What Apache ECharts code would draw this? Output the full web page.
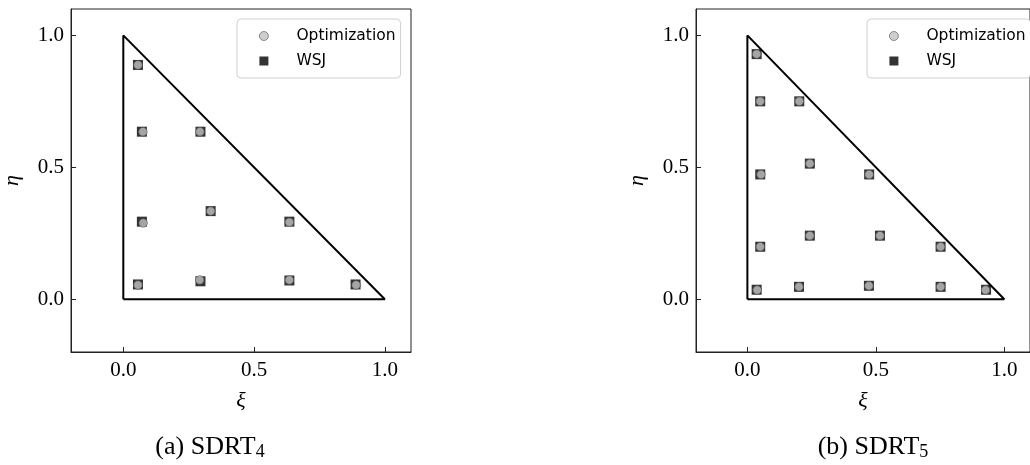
<!DOCTYPE html>
<html>
<head>
<meta charset="utf-8">
<style>
  html, body { margin: 0; padding: 0; background: #fff; }
  #chart { width: 1030px; height: 465px; }
</style>
<script src="https://cdn.jsdelivr.net/npm/echarts@6/dist/echarts.min.js"></script>
</head>
<body>
<div id="chart"></div>
<script>
// Quadrature points on the reference triangle (xi, eta)
const sdrt4Optimization = [
  [0.056, 0.888], [0.075, 0.635], [0.293, 0.635], [0.076, 0.289], [0.334, 0.334],
  [0.635, 0.292], [0.056, 0.054], [0.292, 0.073], [0.635, 0.073], [0.890, 0.054]
];
const sdrt4WSJ = [
  [0.056, 0.888], [0.071, 0.635], [0.295, 0.635], [0.071, 0.294], [0.334, 0.334],
  [0.635, 0.294], [0.056, 0.056], [0.295, 0.068], [0.635, 0.071], [0.888, 0.056]
];
const sdrt5Optimization = [
  [0.036, 0.929], [0.050, 0.750], [0.202, 0.750], [0.243, 0.514], [0.053, 0.473],
  [0.474, 0.473], [0.243, 0.241], [0.516, 0.241], [0.050, 0.199], [0.752, 0.199],
  [0.038, 0.035], [0.201, 0.047], [0.473, 0.051], [0.752, 0.047], [0.927, 0.035]
];
const sdrt5WSJ = [
  [0.036, 0.929], [0.050, 0.750], [0.202, 0.750], [0.243, 0.514], [0.050, 0.473],
  [0.474, 0.473], [0.243, 0.241], [0.516, 0.241], [0.050, 0.199], [0.752, 0.199],
  [0.036, 0.036], [0.201, 0.047], [0.473, 0.051], [0.752, 0.047], [0.929, 0.036]
];
const triangle = [[0, 0], [1, 0], [0, 1], [0, 0]];
const tickValues = [0, 0.5, 1.0];
const axisRange = [-0.2, 1.1];
const captions = ['(a) SDRT{sub|4}', '(b) SDRT{sub|5}'];

const serif = '"Liberation Serif", serif';
const sans = '"DejaVu Sans", sans-serif';

function xAxisFor(idx) {
  return {
    type: 'value', gridIndex: idx, min: axisRange[0], max: axisRange[1],
    name: 'ξ', nameLocation: 'middle', nameGap: 38,
    nameTextStyle: { fontFamily: serif, fontSize: 22, fontStyle: 'italic', color: '#000' },
    axisLine: { show: true, onZero: false, lineStyle: { color: '#222', width: 1 } },
    axisTick: { show: true, inside: true, length: 5, customValues: tickValues, lineStyle: { color: '#222' } },
    axisLabel: { customValues: tickValues, formatter: v => v.toFixed(1), margin: 8,
      fontFamily: serif, fontSize: 21, color: '#000' },
    splitLine: { show: false }
  };
}
function yAxisFor(idx) {
  return {
    type: 'value', gridIndex: idx, min: axisRange[0], max: axisRange[1],
    name: 'η', nameLocation: 'middle', nameGap: 48, nameRotate: 90,
    nameTextStyle: { fontFamily: serif, fontSize: 22, fontStyle: 'italic', color: '#000' },
    axisLine: { show: true, onZero: false, lineStyle: { color: '#222', width: 1 } },
    axisTick: { show: true, inside: true, length: 5, customValues: tickValues, lineStyle: { color: '#222' } },
    axisLabel: { customValues: tickValues, formatter: v => v.toFixed(1), margin: 7,
      fontFamily: serif, fontSize: 21, color: '#000' },
    splitLine: { show: false }
  };
}

const circleStyle = { color: '#c2c2c2', borderColor: '#555', borderWidth: 0.8 };

function seriesFor(idx, opt, wsj) {
  return [
    { type: 'line', xAxisIndex: idx, yAxisIndex: idx, data: triangle, symbol: 'none',
      silent: true, lineStyle: { color: '#000', width: 2 }, z: 2 },
    { name: 'WSJ', type: 'scatter', xAxisIndex: idx, yAxisIndex: idx, data: wsj,
      symbol: 'rect', symbolSize: 10, itemStyle: { color: '#000' }, z: 3 },
    { name: 'Optimization', type: 'scatter', xAxisIndex: idx, yAxisIndex: idx, data: opt,
      symbol: 'circle', symbolSize: 8.5, itemStyle: circleStyle, z: 4 }
  ];
}

function legendFor(left) {
  return {
    left: left, top: 19, orient: 'vertical', itemGap: 9,
    data: [
      { name: 'Optimization', icon: 'circle', itemStyle: circleStyle },
      { name: 'WSJ', icon: 'rect', itemStyle: { color: '#000' } }
    ],
    itemWidth: 9, itemHeight: 9,
    padding: [9, 5, 9, 22],
    backgroundColor: '#fff', borderColor: '#d0d0d0', borderWidth: 1, borderRadius: 4,
    textStyle: { fontFamily: sans, fontSize: 15.5, color: '#000', padding: [0, 0, 0, 23] },
    selectedMode: false
  };
}

const chart = echarts.init(document.getElementById('chart'), null, { renderer: 'canvas' });
chart.setOption({
  animation: false,
  backgroundColor: '#fff',
  grid: [
    { left: 66, top: 9, width: 345, height: 343, show: true, borderColor: '#222', borderWidth: 1 },
    { left: 696, top: 9, width: 345, height: 343, show: true, borderColor: '#222', borderWidth: 1 }
  ],
  xAxis: [xAxisFor(0), xAxisFor(1)],
  yAxis: [yAxisFor(0), yAxisFor(1)],
  legend: [legendFor(237), legendFor(867)],
  title: captions.map((c, i) => ({
    text: c, left: i === 0 ? 205 : 868, top: 428, textAlign: 'center',
    textStyle: { fontFamily: serif, fontSize: 26, fontWeight: 'normal', color: '#000',
      rich: { sub: { fontFamily: serif, fontSize: 18, color: '#000', verticalAlign: 'bottom', padding: [10, 0, 0, 0] } } }
  })),
  series: [...seriesFor(0, sdrt4Optimization, sdrt4WSJ), ...seriesFor(1, sdrt5Optimization, sdrt5WSJ)]
});
</script>
</body>
</html>
